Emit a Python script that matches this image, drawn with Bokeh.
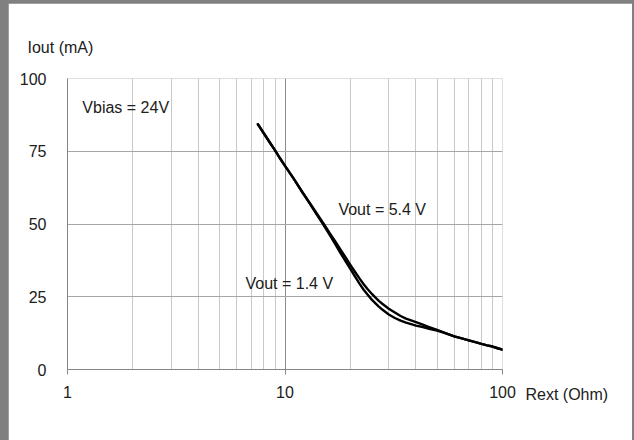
from bokeh.plotting import figure
from bokeh.models import Range1d, FixedTicker, Label, Title
from bokeh.embed import file_html
from bokeh.resources import INLINE

# --- data ---
rext = [7.5, 8, 8.5, 9, 9.5, 10, 11, 12, 13, 14, 15, 16, 17, 18, 19, 20, 21, 22, 23, 24, 25,
        26, 27, 28, 30, 32, 34, 36, 38, 40, 43, 46, 50, 55, 60, 65, 70, 75, 80, 85, 90, 95, 100]
iout_1v4 = [84.3, 81.1, 78.1, 75.3, 72.5, 70.0, 65.4, 61.0, 57.2, 53.6, 50.3, 47.0, 44.1, 41.2,
            38.5, 35.9, 33.5, 31.3, 29.3, 27.6, 26.1, 24.8, 23.6, 22.6, 20.9, 19.6, 18.4, 17.5,
            16.9, 16.3, 15.4, 14.6, 13.6, 12.4, 11.4, 10.7, 10.0, 9.4, 8.8, 8.3, 7.9, 7.3, 6.8]
iout_5v4 = [84.3, 81.1, 78.1, 75.3, 72.5, 70.0, 65.4, 61.0, 57.0, 53.2, 49.8, 46.4, 43.2, 40.0,
            37.2, 34.5, 31.9, 29.5, 27.4, 25.7, 24.1, 22.8, 21.6, 20.6, 18.9, 17.7, 16.8, 16.1,
            15.6, 15.1, 14.6, 14.0, 13.4, 12.4, 11.4, 10.7, 10.0, 9.4, 8.8, 8.3, 7.9, 7.3, 6.8]
x_ticks = [1, 10, 100]
x_minor = [2, 3, 4, 5, 6, 7, 8, 9, 20, 30, 40, 50, 60, 70, 80, 90]
y_ticks = [0, 25, 50, 75, 100]

FONT = "Liberation Sans"
TXT = "#202020"

p = figure(width=624, height=437, x_axis_type="log",
           x_range=Range1d(1, 100), y_range=Range1d(0, 100),
           output_backend="svg", toolbar_location=None,
           min_border_left=59, min_border_top=75, min_border_right=130, min_border_bottom=71)
p.styles = {"margin-left": "8px", "margin-top": "3px"}
p.background_fill_color = "white"
p.border_fill_color = "white"
p.outline_line_color = None

p.xaxis.ticker = FixedTicker(ticks=x_ticks, minor_ticks=x_minor)
p.yaxis.ticker = FixedTicker(ticks=y_ticks)
p.xaxis.major_label_overrides = {1: "1", 10: "10", 100: "100"}

for ax in (p.xaxis, p.yaxis):
    ax.axis_line_color = "#868686"
    ax.axis_line_width = 1
    ax.minor_tick_line_color = None
    ax.major_label_text_font = FONT
    ax.major_label_text_font_size = "16px"
    ax.major_label_text_color = TXT
p.xaxis.major_tick_line_color = "#868686"
p.xaxis.major_tick_in = 0
p.xaxis.major_tick_out = 5
p.xaxis.major_label_standoff = 11
p.yaxis.major_tick_line_color = None
p.yaxis.major_label_standoff = 15

p.xgrid.grid_line_color = "#8c8c8c"
p.xgrid.minor_grid_line_color = "#c8c8c8"
p.ygrid.grid_line_color = "#a6a6a6"

p.line(rext, iout_1v4, line_color="black", line_width=2.4, line_cap="round", line_join="round")
p.line(rext, iout_5v4, line_color="black", line_width=2.4, line_cap="round", line_join="round")

def lab(x, y, t):
    p.add_layout(Label(x=x, y=y, text=t, text_font=FONT, text_font_size="16px",
                       text_color=TXT, text_align="left", text_baseline="middle"))

lab(1.17, 90, "Vbias = 24V")
lab(17.6, 55, "Vout = 5.4 V")
lab(6.58, 29.6, "Vout = 1.4 V")

p.title = Title(text="Iout (mA)", align="left", offset=-40, standoff=46, text_font=FONT,
                text_font_size="16px", text_font_style="normal", text_color=TXT)
p.add_layout(Title(text="Rext (Ohm)", align="left", vertical_align="top", offset=458,
                   standoff=-29, text_font=FONT, text_font_size="16px",
                   text_font_style="normal", text_color=TXT), "below")

html = file_html(p, INLINE)
i = html.rfind("<body")
j = html.find(">", i)
html = html[:i] + '<body style="margin:0;background:#808080;">' + html[j + 1:]
open("out.html", "w").write(html)
